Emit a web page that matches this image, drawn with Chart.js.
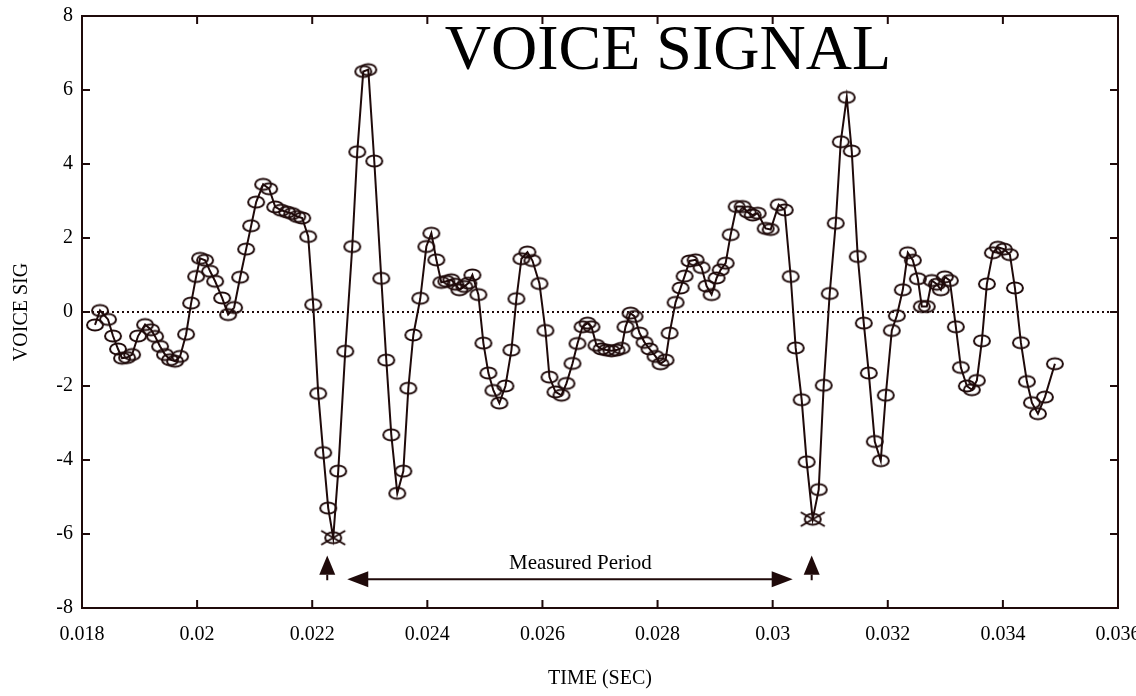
<!DOCTYPE html>
<html>
<head>
<meta charset="utf-8">
<script src="https://cdn.jsdelivr.net/npm/chart.js@4.4.1/dist/chart.umd.min.js"></script>
<style>
  html, body { margin: 0; padding: 0; background: #ffffff; }
  #box { width: 1136px; height: 696px; }
</style>
</head>
<body>
<div id="box"><canvas id="sigChart" width="1136" height="696"></canvas></div>
<script>
// sample times (s) and signal values
const timeSec = [
  0.018226, 0.018313, 0.018452, 0.018539, 0.018626, 0.018696, 0.018783, 0.018870, 0.018974, 0.019096,
  0.019200, 0.019270, 0.019357, 0.019443, 0.019530, 0.019617, 0.019704, 0.019809, 0.019896, 0.019983,
  0.020052, 0.020139, 0.020226, 0.020313, 0.020435, 0.020539, 0.020643, 0.020748, 0.020852, 0.020939,
  0.021026, 0.021148, 0.021252, 0.021357, 0.021461, 0.021565, 0.021652, 0.021739, 0.021826, 0.021930,
  0.022017, 0.022104, 0.022191, 0.022278, 0.022365, 0.022452, 0.022574, 0.022696, 0.022783, 0.022887,
  0.022974, 0.023078, 0.023200, 0.023287, 0.023374, 0.023478, 0.023583, 0.023670, 0.023757, 0.023878,
  0.023983, 0.024070, 0.024157, 0.024243, 0.024330, 0.024417, 0.024487, 0.024557, 0.024643, 0.024713,
  0.024783, 0.024887, 0.024974, 0.025061, 0.025148, 0.025252, 0.025357, 0.025461, 0.025548, 0.025635,
  0.025739, 0.025826, 0.025948, 0.026052, 0.026122, 0.026226, 0.026330, 0.026417, 0.026522, 0.026609,
  0.026696, 0.026783, 0.026852, 0.026939, 0.027026, 0.027113, 0.027200, 0.027287, 0.027374, 0.027443,
  0.027530, 0.027600, 0.027687, 0.027774, 0.027861, 0.027965, 0.028052, 0.028139, 0.028209, 0.028313,
  0.028400, 0.028470, 0.028557, 0.028661, 0.028765, 0.028852, 0.028939, 0.029026, 0.029096, 0.029183,
  0.029270, 0.029374, 0.029478, 0.029565, 0.029652, 0.029739, 0.029878, 0.029965, 0.030104, 0.030209,
  0.030313, 0.030400, 0.030504, 0.030591, 0.030696, 0.030800, 0.030887, 0.030991, 0.031096, 0.031183,
  0.031287, 0.031374, 0.031478, 0.031583, 0.031670, 0.031774, 0.031878, 0.031965, 0.032070, 0.032157,
  0.032261, 0.032348, 0.032435, 0.032522, 0.032591, 0.032678, 0.032765, 0.032852, 0.032922, 0.032991,
  0.033078, 0.033183, 0.033270, 0.033374, 0.033461, 0.033548, 0.033635, 0.033722, 0.033826, 0.033913,
  0.034017, 0.034122, 0.034209, 0.034313, 0.034417, 0.034504, 0.034609, 0.034730, 0.034904
];
const voiceSig = [
  -0.35, 0.04, -0.20, -0.65, -1.00, -1.25, -1.23, -1.15, -0.65, -0.34,
  -0.48, -0.66, -0.93, -1.15, -1.29, -1.33, -1.20, -0.60, 0.24, 0.96,
  1.45, 1.40, 1.10, 0.83, 0.38, -0.07, 0.12, 0.94, 1.70, 2.33,
  2.97, 3.45, 3.33, 2.84, 2.75, 2.70, 2.66, 2.58, 2.54, 2.04,
  0.20, -2.20, -3.80, -5.30, -6.10, -4.30, -1.06, 1.77, 4.33, 6.50,
  6.55, 4.08, 0.91, -1.30, -3.32, -4.90, -4.30, -2.06, -0.62, 0.37,
  1.77, 2.13, 1.41, 0.80, 0.83, 0.87, 0.75, 0.60, 0.69, 0.78,
  1.00, 0.47, -0.84, -1.65, -2.12, -2.46, -2.00, -1.03, 0.36, 1.44,
  1.62, 1.39, 0.77, -0.50, -1.76, -2.16, -2.25, -1.93, -1.39, -0.85,
  -0.40, -0.30, -0.40, -0.90, -1.00, -1.03, -1.05, -1.03, -0.98, -0.40,
  -0.03, -0.12, -0.57, -0.82, -1.00, -1.20, -1.40, -1.30, -0.57, 0.26,
  0.65, 0.97, 1.38, 1.41, 1.20, 0.70, 0.47, 0.92, 1.14, 1.32,
  2.09, 2.85, 2.85, 2.70, 2.62, 2.67, 2.26, 2.23, 2.90, 2.76,
  0.96, -0.97, -2.37, -4.05, -5.60, -4.80, -1.98, 0.50, 2.40, 4.60,
  5.80, 4.35, 1.50, -0.30, -1.65, -3.50, -4.02, -2.25, -0.50, -0.10,
  0.60, 1.60, 1.40, 0.90, 0.15, 0.15, 0.85, 0.75, 0.60, 0.95,
  0.85, -0.40, -1.50, -2.00, -2.10, -1.85, -0.78, 0.76, 1.60, 1.75,
  1.70, 1.55, 0.65, -0.83, -1.88, -2.45, -2.75, -2.30, -1.40
];
// samples flagged with a crossed marker (the two troughs)
const crossedSamples = [44, 134];

const xTickRange = [0.018, 0.036, 0.002];
const yTickRange = [-8, 8, 2];

// "Measured Period" annotation, in data units
const markerTimes = [0.022261, 0.030678];
const periodFrom = 0.022609;
const periodTo = 0.030348;

const INK = '#1f0a0a';
const SERIF = "'Liberation Serif', 'DejaVu Serif', serif";

function ellipseMarker(crossed) {
  const c = document.createElement('canvas');
  c.width = crossed ? 28 : 22;
  c.height = crossed ? 18 : 16;
  const g = c.getContext('2d');
  const cx = c.width / 2, cy = c.height / 2;
  g.strokeStyle = INK;
  g.lineWidth = 2;
  g.beginPath();
  g.ellipse(cx, cy, 8, 5.6, 0, 0, Math.PI * 2);
  g.stroke();
  if (crossed) {
    g.beginPath();
    g.moveTo(2, 2); g.lineTo(c.width - 2, c.height - 2);
    g.moveTo(2, c.height - 2); g.lineTo(c.width - 2, 2);
    g.stroke();
  }
  return c;
}
const plainMark = ellipseMarker(false);
const crossMark = ellipseMarker(true);

const points = timeSec.map((t, i) => ({ x: t, y: voiceSig[i] }));
const markStyles = voiceSig.map((v, i) => crossedSamples.includes(i) ? crossMark : plainMark);

// frame, inward ticks, dotted zero line, title and period arrows
const decorations = {
  id: 'decorations',
  beforeDatasetsDraw(chart) {
    const { ctx, chartArea: a, scales: { y } } = chart;
    ctx.save();
    ctx.strokeStyle = INK;
    ctx.lineWidth = 2;
    ctx.setLineDash([2, 3]);
    const y0 = Math.round(y.getPixelForValue(0));
    ctx.beginPath();
    ctx.moveTo(a.left, y0);
    ctx.lineTo(a.right, y0);
    ctx.stroke();
    ctx.restore();
  },
  afterDraw(chart) {
    const { ctx, chartArea: a, scales: { x, y } } = chart;
    ctx.save();
    ctx.strokeStyle = INK;
    ctx.fillStyle = INK;
    ctx.lineWidth = 2;
    ctx.strokeRect(a.left, a.top, a.right - a.left, a.bottom - a.top);

    const tl = 8;
    ctx.beginPath();
    x.ticks.forEach(t => {
      const px = x.getPixelForValue(t.value);
      ctx.moveTo(px, a.bottom); ctx.lineTo(px, a.bottom - tl);
      ctx.moveTo(px, a.top); ctx.lineTo(px, a.top + tl);
    });
    y.ticks.forEach(t => {
      const py = y.getPixelForValue(t.value);
      ctx.moveTo(a.left, py); ctx.lineTo(a.left + tl, py);
      ctx.moveTo(a.right, py); ctx.lineTo(a.right - tl, py);
    });
    ctx.stroke();

    // title inside the plot
    ctx.fillStyle = '#000';
    ctx.font = '64px ' + SERIF;
    ctx.textAlign = 'center';
    ctx.textBaseline = 'alphabetic';
    ctx.fillText('VOICE SIGNAL', x.getPixelForValue(0.02818), a.top + 53);

    // up arrows under the two troughs
    ctx.fillStyle = INK;
    markerTimes.forEach(t => {
      const px = x.getPixelForValue(t);
      const tip = y.getPixelForValue(-6.58);
      const base = y.getPixelForValue(-7.1);
      const end = y.getPixelForValue(-7.25);
      ctx.beginPath();
      ctx.moveTo(px, tip);
      ctx.lineTo(px - 8, base);
      ctx.lineTo(px + 8, base);
      ctx.closePath();
      ctx.fill();
      ctx.beginPath();
      ctx.moveTo(px, base); ctx.lineTo(px, end);
      ctx.stroke();
    });

    // double-headed period arrow
    const ly = y.getPixelForValue(-7.22);
    const x1 = x.getPixelForValue(periodFrom);
    const x2 = x.getPixelForValue(periodTo);
    ctx.beginPath();
    ctx.moveTo(x1 + 10, ly); ctx.lineTo(x2 - 10, ly);
    ctx.stroke();
    ctx.beginPath();
    ctx.moveTo(x1, ly); ctx.lineTo(x1 + 21, ly - 8); ctx.lineTo(x1 + 21, ly + 8); ctx.closePath();
    ctx.fill();
    ctx.beginPath();
    ctx.moveTo(x2, ly); ctx.lineTo(x2 - 21, ly - 8); ctx.lineTo(x2 - 21, ly + 8); ctx.closePath();
    ctx.fill();

    ctx.fillStyle = '#000';
    ctx.font = '21px ' + SERIF;
    ctx.textBaseline = 'middle';
    ctx.fillText('Measured Period', x.getPixelForValue(0.02666), y.getPixelForValue(-6.8));
    ctx.restore();
  }
};

const tickFont = { family: SERIF, size: 20 };
const titleFont = { family: SERIF, size: 20 };

new Chart(document.getElementById('sigChart'), {
  type: 'line',
  data: {
    datasets: [{
      label: 'VOICE SIG',
      data: points,
      borderColor: INK,
      borderWidth: 2,
      tension: 0,
      fill: false,
      pointStyle: markStyles,
      pointRadius: 6,
      pointHoverRadius: 6
    }]
  },
  options: {
    responsive: false,
    animation: false,
    devicePixelRatio: 1,
    events: [],
    layout: { padding: { left: 0, right: 18, top: 16, bottom: 0 } },
    plugins: { legend: { display: false }, tooltip: { enabled: false } },
    scales: {
      x: {
        type: 'linear',
        min: xTickRange[0],
        max: xTickRange[1],
        grid: { display: false, drawTicks: false },
        border: { display: false },
        ticks: {
          stepSize: xTickRange[2],
          color: '#000',
          font: tickFont,
          padding: 15,
          maxRotation: 0,
          autoSkip: false,
          callback: v => String(Number(v.toFixed(3)))
        },
        title: { display: true, text: 'TIME (SEC)', color: '#000', font: titleFont, padding: { top: 0, bottom: 5 } },
        afterFit: s => { s.height = 88; s.paddingLeft = 0; s.paddingRight = 0; }
      },
      y: {
        type: 'linear',
        min: yTickRange[0],
        max: yTickRange[1],
        grid: { display: false, drawTicks: false },
        border: { display: false },
        ticks: { stepSize: yTickRange[2], color: '#000', font: tickFont, padding: 9 },
        title: { display: true, text: 'VOICE SIG', color: '#000', font: titleFont, padding: { top: 10, bottom: 0 } },
        afterFit: s => { s.width = 82; s.paddingTop = 0; s.paddingBottom = 0; }
      }
    }
  },
  plugins: [decorations]
});
</script>
</body>
</html>
